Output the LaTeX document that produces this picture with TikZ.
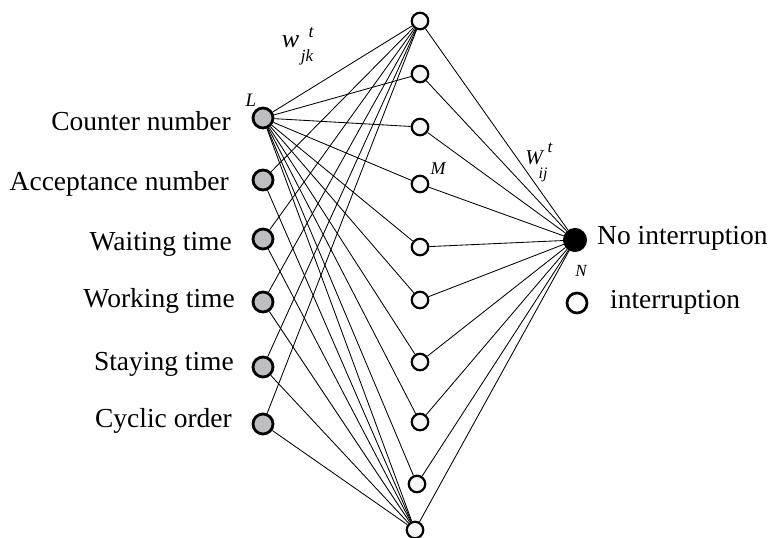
\documentclass[tikz,border=0pt]{standalone}
\usepackage{fontspec}
\setmainfont{Liberation Serif}
\definecolor{inpgray}{RGB}{190,190,194}
\definecolor{hidfill}{RGB}{246,246,246}
\begin{document}
\begin{tikzpicture}[x=1pt,y=-1pt,
  inp/.style={circle,draw=black,line width=2.8pt,fill=inpgray,minimum size=20pt,inner sep=0pt},
  hid/.style={circle,draw=black,line width=2.2pt,fill=hidfill,minimum size=16.5pt,inner sep=0pt},
  outblack/.style={circle,draw=black,line width=1pt,fill=black,minimum size=23pt,inner sep=0pt},
  outwhite/.style={circle,draw=black,line width=2.7pt,fill=white,minimum size=20pt,inner sep=0pt},
  lbl/.style={font=\fontsize{27.5}{27.5}\selectfont,anchor=base east,inner sep=0pt},
  rlbl/.style={font=\fontsize{27.5}{27.5}\selectfont,anchor=base west,inner sep=0pt},
  ital/.style={font=\fontsize{#1}{#1}\selectfont\itshape,inner sep=0pt},
  conn/.style={line width=0.85pt}]
\useasboundingbox (0,0) rectangle (769,538);

% input nodes
\node[inp] (i1) at (263,118) {};
\node[inp] (i2) at (263,180) {};
\node[inp] (i3) at (263,239) {};
\node[inp] (i4) at (263,302) {};
\node[inp] (i5) at (263,367) {};
\node[inp] (i6) at (263,424) {};

% input labels
\node[lbl] (t1) at (231,130) {Counter number};
\node[lbl] (t2) at (229,190) {Acceptance number};
\node[lbl] (t3) at (232,250) {Waiting time};
\node[lbl] (t4) at (235,307) {Working time};
\node[lbl] (t5) at (234,370) {Staying time};
\node[lbl] (t6) at (232,427) {Cyclic order};

% hidden nodes
\node[hid] (h1) at (420,21) {};
\node[hid] (h2) at (420,74) {};
\node[hid] (h3) at (420,127) {};
\node[hid] (h4) at (420,184) {};
\node[hid] (h5) at (420,247) {};
\node[hid] (h6) at (420,300) {};
\node[hid] (h7) at (420,362) {};
\node[hid] (h8) at (420,422) {};
\node[hid] (h9) at (417,484) {};
\node[hid] (h10) at (415,530) {};

% output nodes
\node[outblack] (o1) at (575,240) {};
\node[outwhite] (o2) at (577,303) {};
\node[rlbl] (ot1) at (597,244) {No interruption};
\node[rlbl] (ot2) at (610,308) {interruption};

% connections
\foreach \k in {1,...,10} \draw[conn] (i1) -- (h\k);
\foreach \k in {2,...,6} {\draw[conn] (i\k) -- (h1); \draw[conn] (i\k) -- (h10);}
\foreach \k in {1,...,10} \draw[conn] (h\k) -- (o1);

% small labels
\node[ital=19] (lL) at (251,100) {L};
\node[ital=18] (lM) at (438,169) {M};
\node[ital=17] (lN) at (581,271) {N};
\node[ital=26] (lw) at (290.5,42) {w};
\node[ital=18] (lwt) at (311,33) {t};
\node[ital=17] (lwjk) at (307,57) {jk};
\node[ital=21] (lW) at (534,158) {W};
\node[ital=17] (lWt) at (550,148) {t};
\node[ital=16] (lWij) at (543,175) {ij};
\end{tikzpicture}
\end{document}
